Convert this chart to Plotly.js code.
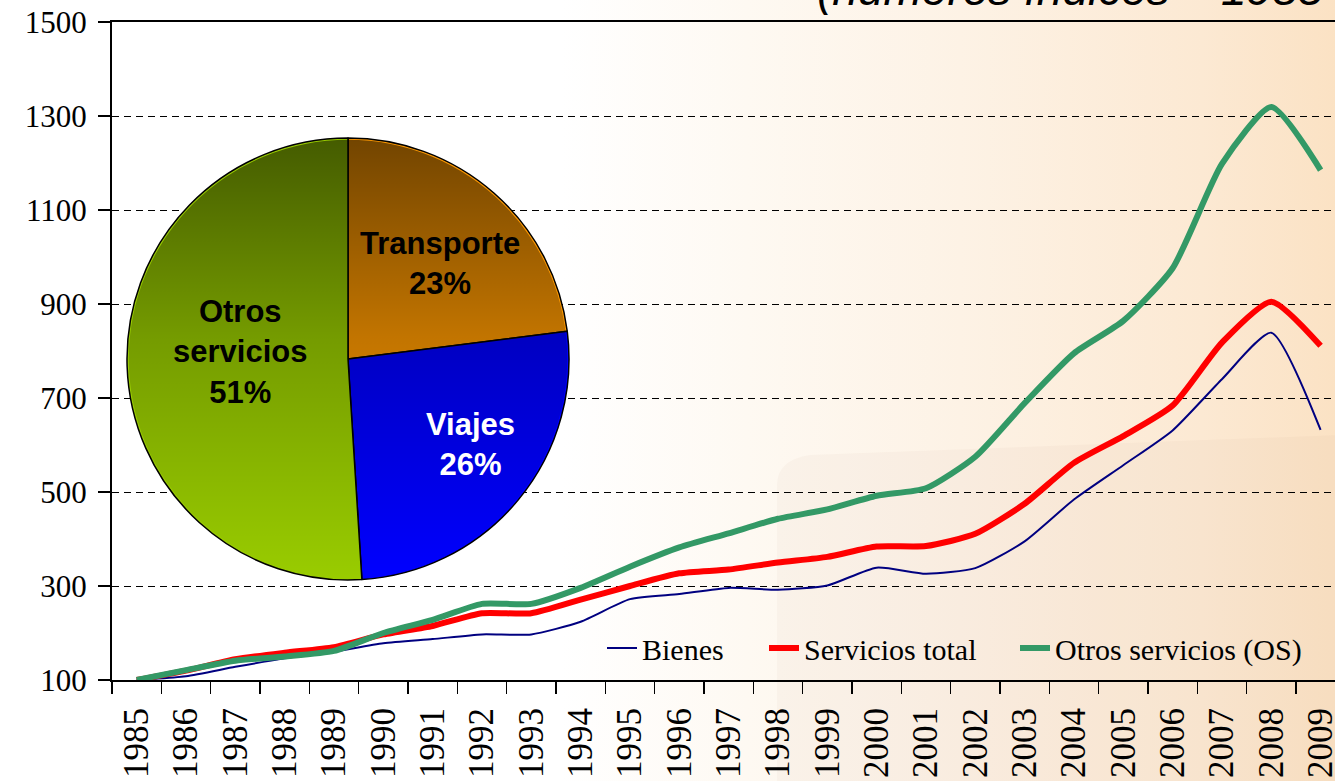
<!DOCTYPE html>
<html>
<head>
<meta charset="utf-8">
<script src="https://cdn.plot.ly/plotly-3.0.1.min.js"></script>
<style>
  html, body { margin: 0; padding: 0; width: 1335px; height: 781px; overflow: hidden; }
  body { background: linear-gradient(90deg, #ffffff 0%, #ffffff 42%, #fef9f2 56%, #fdf2e5 72%, #fce9d3 90%, #fbe2c4 100%); }
  #chart { width: 1335px; height: 781px; }
</style>
</head>
<body>
<div id="chart"></div>
<script>
// ---- Data ----
const years = [1985, 1986, 1987, 1988, 1989, 1990, 1991, 1992, 1993, 1994, 1995, 1996,
               1997, 1998, 1999, 2000, 2001, 2002, 2003, 2004, 2005, 2006, 2007, 2008, 2009];
const bienes = [100, 108, 128, 146, 160, 178, 187, 197, 197, 224, 272, 283,
                296, 292, 301, 339, 326, 338, 395, 484, 557, 631, 740, 839, 632];
const serviciosTotal = [100, 120, 144, 158, 170, 197, 215, 242, 242, 271, 300, 327,
                        335, 350, 362, 384, 385, 411, 475, 562, 619, 684, 818, 905, 811];
const otrosServicios = [100, 121, 141, 150, 162, 200, 228, 262, 262, 296, 341, 382,
                        412, 443, 463, 492, 508, 575, 689, 795, 864, 976, 1198, 1319, 1185];
const seriesNames = ['Bienes', 'Servicios total', 'Otros servicios (OS)'];

const pieLabels = ['Transporte', 'Viajes', 'Otros servicios'];
const pieValues = [23, 26, 51];

const yTicks = [100, 300, 500, 700, 900, 1100, 1300, 1500];
const titleText = '(números índices – 1985 = 100)';

// ---- Geometry helpers (layout only) ----
const W = 1335, H = 781;
const M = { l: 112, r: 0, t: 22, b: 101 };
const PW = W - M.l - M.r, PH = H - M.t - M.b;
const px2x = p => (p - M.l) / PW;
const px2y = p => (H - M.b - p) / PH;

const serif = 'Liberation Serif, Times New Roman, serif';
const sans = 'Liberation Sans, Arial, sans-serif';

const legendIds = ['legend', 'legend2', 'legend3'];
const legendLeft = [602, 764, 1015];

const lineTraces = [
  { y: bienes, color: '#000080', width: 2 },
  { y: serviciosTotal, color: '#ff0000', width: 6 },
  { y: otrosServicios, color: '#339966', width: 6 }
].map((s, i) => ({
  type: 'scatter', mode: 'lines', x: years, y: s.y, name: seriesNames[i],
  legend: legendIds[i],
  line: { color: s.color, width: s.width, shape: 'spline', smoothing: 0.6 },
  xaxis: 'x', yaxis: 'y', hoverinfo: 'skip'
}));

// pie domain (square box in plot-fraction units)
const pieBox = { x0: 127, x1: 569, y0: 138, y1: 580 };
const pieTrace = {
  type: 'pie', values: pieValues, labels: pieLabels, sort: false,
  direction: 'clockwise', rotation: 0, textinfo: 'none', showlegend: false,
  hoverinfo: 'skip',
  marker: { colors: ['#ff9900', '#0000ff', '#99cc00'], line: { color: '#000000', width: 1.5 } },
  domain: { x: [px2x(pieBox.x0), px2x(pieBox.x1)], y: [px2y(pieBox.y1), px2y(pieBox.y0)] }
};

// vertical shading over the pie (decorative gradient)
const shadeSvg = "<svg xmlns='http://www.w3.org/2000/svg' viewBox='0 0 100 100' preserveAspectRatio='none'>" +
  "<defs><linearGradient id='g' x1='0' y1='0' x2='0' y2='1'>" +
  "<stop offset='0' stop-color='#000' stop-opacity='0.55'/>" +
  "<stop offset='0.45' stop-color='#000' stop-opacity='0.24'/>" +
  "<stop offset='1' stop-color='#000' stop-opacity='0'/></linearGradient></defs>" +
  "<circle cx='50' cy='50' r='49.6' fill='url(#g)'/></svg>";
const shadeSrc = 'data:image/svg+xml;charset=utf-8,' + encodeURIComponent(shadeSvg);

const pieTextPos = [ { x: 440, y: 263, color: '#000000' },
                     { x: 470, y: 444, color: '#ffffff' },
                     { x: 240, y: 352, color: '#000000' } ];
const pieAnnotations = pieLabels.map((lab, i) => ({
  xref: 'paper', yref: 'paper', x: px2x(pieTextPos[i].x), y: px2y(pieTextPos[i].y),
  xanchor: 'center', yanchor: 'middle', showarrow: false, align: 'center',
  text: '<b>' + lab.split(' ').join('<br>') + '<br>' + pieValues[i] + '%</b>',
  font: { family: sans, size: 31, color: pieTextPos[i].color }
}));

const layout = {
  width: W, height: H, margin: M,
  paper_bgcolor: 'rgba(0,0,0,0)', plot_bgcolor: 'rgba(0,0,0,0)',
  showlegend: true,
  xaxis: {
    range: [1984.5, 1984.5 + PW / 49.33], showgrid: false, zeroline: false,
    tickmode: 'array', tickvals: years, ticktext: years.map(String),
    ticks: '', tickangle: -90, ticklabelstandoff: 12, ticklabeloverflow: 'allow',
    tickfont: { family: serif, size: 35, color: '#000' },
    minor: { ticks: 'outside', ticklen: 12, tickwidth: 1.3, tickcolor: '#000', tick0: 1984.5, dtick: 1, showgrid: false },
    showline: true, linecolor: '#000', linewidth: 2, mirror: true
  },
  yaxis: {
    range: [100, 1500], tickmode: 'array', tickvals: yTicks, ticktext: yTicks.map(String),
    ticks: 'outside', ticklen: 12, tickwidth: 1.3, tickcolor: '#000', ticklabelstandoff: 5,
    tickfont: { family: serif, size: 31, color: '#000' },
    showgrid: true, gridcolor: '#000', gridwidth: 1, griddash: '7px,5px',
    zeroline: false, showline: true, linecolor: '#000', linewidth: 2
  },
  shapes: [{
    type: 'path', xref: 'paper', yref: 'paper', layer: 'below',
    path: 'M ' + px2x(777) + ',' + px2y(790) + ' L ' + px2x(777) + ',' + px2y(485) +
          ' Q ' + px2x(777) + ',' + px2y(460) + ' ' + px2x(810) + ',' + px2y(455) +
          ' L ' + px2x(1340) + ',' + px2y(435) + ' L ' + px2x(1340) + ',' + px2y(790) + ' Z',
    fillcolor: 'rgba(170,140,110,0.05)', line: { width: 0 }
  }],
  images: [{
    source: shadeSrc, xref: 'paper', yref: 'paper',
    x: px2x(pieBox.x0), y: px2y(pieBox.y0),
    sizex: (pieBox.x1 - pieBox.x0) / PW, sizey: (pieBox.y1 - pieBox.y0) / PH,
    xanchor: 'left', yanchor: 'top', sizing: 'stretch', layer: 'above'
  }],
  annotations: pieAnnotations.concat([{
    xref: 'paper', yref: 'paper', x: px2x(815), y: px2y(-11), xanchor: 'left', yanchor: 'middle',
    showarrow: false, text: titleText,
    font: { family: sans, size: 46, color: '#000', style: 'italic' }
  }])
};

legendIds.forEach((id, i) => {
  layout[id] = {
    orientation: 'h', x: px2x(legendLeft[i]), xanchor: 'left', y: px2y(648), yanchor: 'middle',
    bgcolor: 'rgba(0,0,0,0)', font: { family: serif, size: 30, color: '#000' }
  };
});

Plotly.newPlot('chart', lineTraces.concat([pieTrace]), layout, { staticPlot: true, displayModeBar: false });
</script>
</body>
</html>
